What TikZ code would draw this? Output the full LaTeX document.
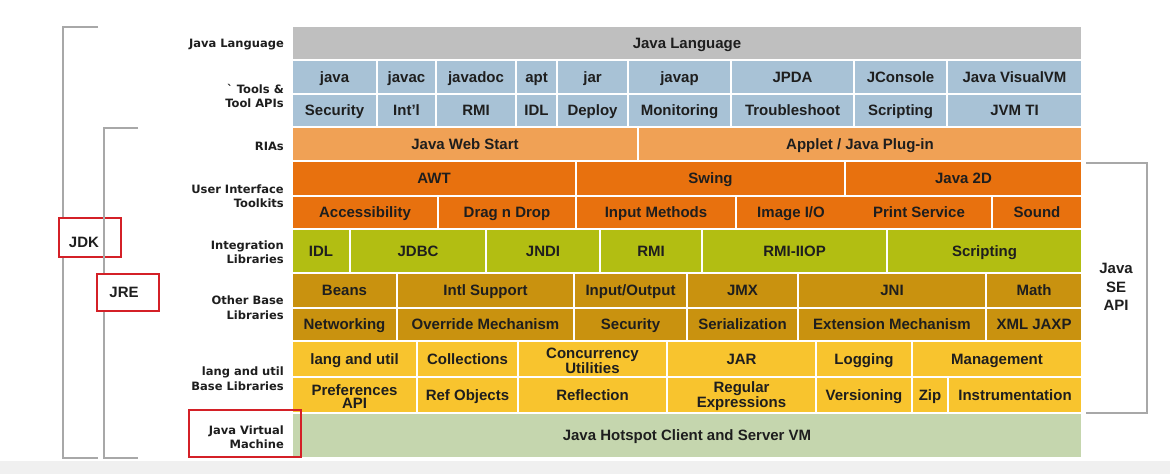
\documentclass[tikz,border=0pt]{standalone}
\usepackage{fontspec}
\setmainfont{Liberation Sans}
\newfontfamily\lblfam{DejaVu Sans}
\definecolor{cJL}{HTML}{BFBFBF}
\definecolor{cTL}{HTML}{A8C2D6}
\definecolor{cRIA}{HTML}{F0A155}
\definecolor{cUI}{HTML}{E8710E}
\definecolor{cINT}{HTML}{B2BE12}
\definecolor{cOB}{HTML}{C9920F}
\definecolor{cLU}{HTML}{F8C42E}
\definecolor{cJVM}{HTML}{C5D6AE}
\definecolor{txt}{HTML}{1E1E1E}
\definecolor{brk}{HTML}{A8A8A8}
\definecolor{redbox}{HTML}{D42027}
\newcommand\cel[8][]{\node[cell, #1, fill=#7, minimum width={(#4-#3)*1pt}, minimum height={(#6-#5)*1pt}] (#2) at ({(#3+#4)/2},{(#5+#6)/2}) {#8};}
\tikzset{
  cell/.style={draw=white, line width=1.8pt, inner sep=0pt, text=txt, align=center,
    text height=10.7pt, text depth=0pt,
    font=\fontsize{15}{13}\selectfont\bfseries},
  celltext/.style={inner sep=0pt, text=txt, text height=10.7pt, text depth=0pt,
    font=\fontsize{15}{13}\selectfont\bfseries},
  twotext/.style={inner sep=0pt, text=txt, align=center,
    font=\fontsize{15}{13}\selectfont\bfseries},
  lbl/.style={anchor=east, inner sep=0pt, align=right, text=txt,
    font=\lblfam\fontsize{11.5}{14.5}\selectfont\bfseries},
  bracket/.style={draw=brk, line width=2pt},
  redframe/.style={draw=redbox, line width=2.5pt},
  big/.style={inner sep=0pt, text=txt, align=center, font=\fontsize{15}{18.5}\selectfont\bfseries}
}
\begin{document}
\begin{tikzpicture}[x=1pt,y=-1pt]
\useasboundingbox (0,0) rectangle (1170,474);
\fill[white] (0,0) rectangle (1170,474);
\fill[black!6] (0,461) rectangle (1170,474);

% Java Language
\cel{jl}{292}{1082}{26}{60}{cJL}{Java Language}
% Tools row 1
\cel{t1}{292}{377}{60}{94}{cTL}{java}
\cel{t2}{377}{436}{60}{94}{cTL}{javac}
\cel{t3}{436}{516}{60}{94}{cTL}{javadoc}
\cel{t4}{516}{557}{60}{94}{cTL}{apt}
\cel{t5}{557}{628}{60}{94}{cTL}{jar}
\cel{t6}{628}{731}{60}{94}{cTL}{javap}
\cel{t7}{731}{854}{60}{94}{cTL}{JPDA}
\cel{t8}{854}{947}{60}{94}{cTL}{JConsole}
\cel{t9}{947}{1082}{60}{94}{cTL}{Java VisualVM}
% Tools row 2
\cel{u1}{292}{377}{94}{127}{cTL}{Security}
\cel{u2}{377}{436}{94}{127}{cTL}{Int'l}
\cel{u3}{436}{516}{94}{127}{cTL}{RMI}
\cel{u4}{516}{557}{94}{127}{cTL}{IDL}
\cel{u5}{557}{628}{94}{127}{cTL}{Deploy}
\cel{u6}{628}{731}{94}{127}{cTL}{Monitoring}
\cel{u7}{731}{854}{94}{127}{cTL}{Troubleshoot}
\cel{u8}{854}{947}{94}{127}{cTL}{Scripting}
\cel{u9}{947}{1082}{94}{127}{cTL}{JVM TI}
% RIAs
\cel{r1}{292}{638}{127}{161}{cRIA}{Java Web Start}
\cel{r2}{638}{1082}{127}{161}{cRIA}{Applet / Java Plug-in}
% UI row 1
\cel{a1}{292}{576}{161}{196}{cUI}{AWT}
\cel{a2}{576}{845}{161}{196}{cUI}{Swing}
\cel{a3}{845}{1082}{161}{196}{cUI}{Java 2D}
% UI row 2
\cel{b1}{292}{438}{196}{229}{cUI}{Accessibility}
\cel{b2}{438}{576}{196}{229}{cUI}{Drag n Drop}
\cel{b3}{576}{736}{196}{229}{cUI}{Input Methods}
\cel{b4}{736}{992}{196}{229}{cUI}{}
\node[celltext] (b4a) at (791,212.5) {Image I/O};
\node[celltext] (b4b) at (919,212.5) {Print Service};
\cel{b5}{992}{1082}{196}{229}{cUI}{Sound}
% Integration
\cel{i1}{292}{350}{229}{273}{cINT}{IDL}
\cel{i2}{350}{486}{229}{273}{cINT}{JDBC}
\cel{i3}{486}{600}{229}{273}{cINT}{JNDI}
\cel{i4}{600}{702}{229}{273}{cINT}{RMI}
\cel{i5}{702}{887}{229}{273}{cINT}{RMI-IIOP}
\cel{i6}{887}{1082}{229}{273}{cINT}{Scripting}
% Other base row 1
\cel{o1}{292}{397}{273}{308}{cOB}{Beans}
\cel{o2}{397}{574}{273}{308}{cOB}{Intl Support}
\cel{o3}{574}{687}{273}{308}{cOB}{Input/Output}
\cel{o4}{687}{798}{273}{308}{cOB}{JMX}
\cel{o5}{798}{986}{273}{308}{cOB}{JNI}
\cel{o6}{986}{1082}{273}{308}{cOB}{Math}
% Other base row 2
\cel{p1}{292}{397}{308}{341}{cOB}{Networking}
\cel{p2}{397}{574}{308}{341}{cOB}{Override Mechanism}
\cel{p3}{574}{687}{308}{341}{cOB}{Security}
\cel{p4}{687}{798}{308}{341}{cOB}{Serialization}
\cel{p5}{798}{986}{308}{341}{cOB}{Extension Mechanism}
\cel{p6}{986}{1082}{308}{341}{cOB}{XML JAXP}
% lang util row 1
\cel{l1}{292}{417}{341}{377}{cLU}{lang and util}
\cel{l2}{417}{518}{341}{377}{cLU}{Collections}
\cel{l3}{518}{667}{341}{377}{cLU}{}
\node[twotext] (l3t) at ([yshift=-1.5pt]l3.center) {Concurrency\\Utilities};
\cel{l4}{667}{816}{341}{377}{cLU}{JAR}
\cel{l5}{816}{912}{341}{377}{cLU}{Logging}
\cel{l6}{912}{1082}{341}{377}{cLU}{Management}
% lang util row 2
\cel{m1}{292}{417}{377}{413}{cLU}{}
\node[twotext] (m1t) at ([yshift=-1.5pt]m1.center) {Preferences\\API};
\cel{m2}{417}{518}{377}{413}{cLU}{Ref Objects}
\cel{m3}{518}{667}{377}{413}{cLU}{Reflection}
\cel{m4}{667}{816}{377}{413}{cLU}{}
\node[twotext] (m4t) at ([yshift=-1.5pt]m4.center) {Regular\\Expressions};
\cel{m5}{816}{912}{377}{413}{cLU}{Versioning}
\cel{m6}{912}{948}{377}{413}{cLU}{Zip}
\cel{m7}{948}{1082}{377}{413}{cLU}{Instrumentation}
% JVM
\cel{jvm}{292}{1082}{413}{458}{cJVM}{Java Hotspot Client and Server VM}

% left labels
\node[lbl] (ljl) at (284,44.5) {Java Language};
\node[lbl] (ltl) at (284,96) {` Tools \&\\Tool APIs};
\node[lbl] (lria) at (284,146) {RIAs};
\node[lbl] (lui) at (284,196) {User Interface\\Toolkits};
\node[lbl] (lint) at (284,252) {Integration\\Libraries};
\node[lbl] (lob) at (284,307.5) {Other Base\\Libraries};
\node[lbl] (llu) at (284,378.5) {lang and util\\Base Libraries};
\node[lbl] (ljvm) at (284,437) {Java Virtual\\Machine};

% brackets and frames
\draw[bracket] (98,27) -- (63,27) -- (63,458) -- (98,458);
\draw[redframe, fill=white] (59,218) rectangle (121,257);
\node[big] (jdk) at (84,242) {JDK};
\draw[bracket] (138,128) -- (104,128) -- (104,458) -- (138,458);
\draw[redframe, fill=white] (97,274) rectangle (159,311);
\node[big] (jre) at (124,292.5) {JRE};
\draw[redframe] (189,410) rectangle (301,457);
\draw[bracket] (1086,163) -- (1147,163) -- (1147,413) -- (1086,413);
\node[big] (se) at (1116,287) {Java\\SE\\API};
\end{tikzpicture}
\end{document}
